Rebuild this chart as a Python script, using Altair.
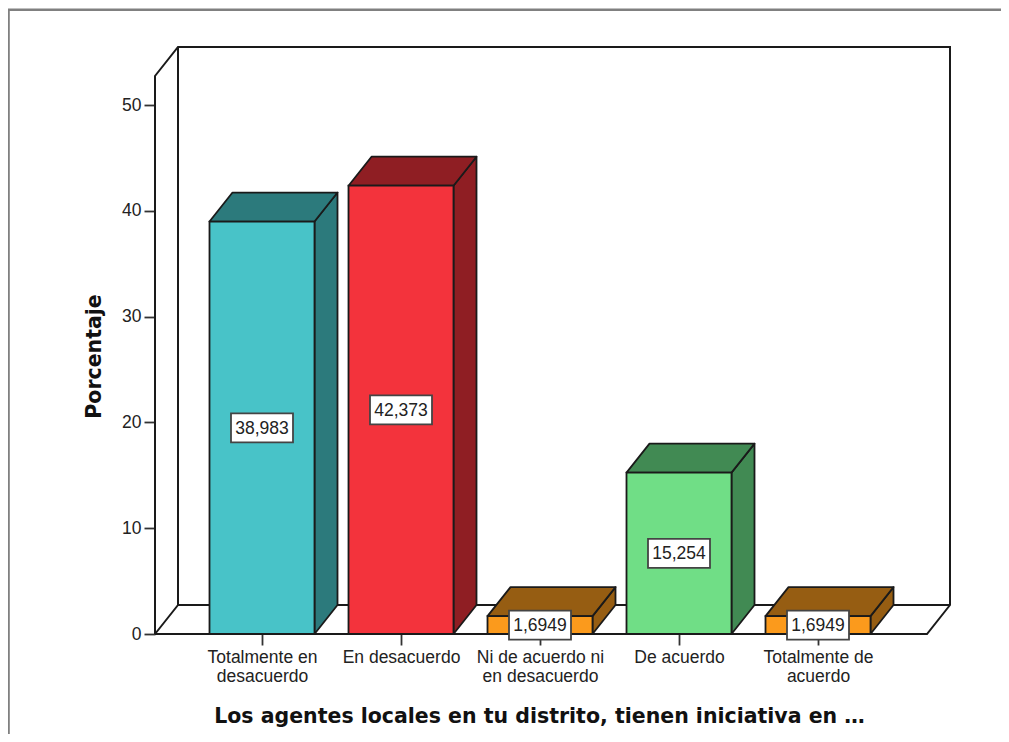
import json
import altair as alt
import pandas as pd

categories = ["Totalmente en desacuerdo", "En desacuerdo", "Ni de acuerdo ni en desacuerdo", "De acuerdo", "Totalmente de acuerdo"]
label_lines = [["Totalmente en", "desacuerdo"], ["En desacuerdo"], ["Ni de acuerdo ni", "en desacuerdo"], ["De acuerdo"], ["Totalmente de", "acuerdo"]]
values = [38.983, 42.373, 1.6949, 15.254, 1.6949]
value_labels = ["38,983", "42,373", "1,6949", "15,254", "1,6949"]
front_colors = ["#48c3c8", "#f3333c", "#fb9a1c", "#70de86", "#fb9a1c"]
dark_colors = ["#2c7a7c", "#8f1e23", "#965d12", "#418a53", "#965d12"]
y_ticks = [0, 10, 20, 30, 40, 50]

# geometry in data units
PX_X = 139.0
PX_Y = 10.58
X_MIN = -107 / PX_X
X_FLOOR = 4 + 109 / PX_X
DX = 23 / PX_X
DY = 29 / PX_Y
X_MAX = X_FLOOR + DX
Y_MAX = 587 / PX_Y
HALF = 52.5 / PX_X
BOX_W = 31 / PX_X
BOX_H = 14.5 / PX_Y
W, H = 795, 587

x_scale = alt.Scale(domain=[X_MIN, X_MAX], nice=False, zero=False)
y_scale = alt.Scale(domain=[0, Y_MAX], nice=False, zero=False)
FONT = "Liberation Sans"
BOLD = "DejaVu Sans"
EDGE = "#1a1a1a"

x_axis = alt.Axis(
    values=list(range(len(categories))),
    domain=False, grid=False, tickSize=11, tickWidth=1.8, tickColor="#333333",
    labelExpr=json.dumps(label_lines) + "[datum.value]",
    labelFont=FONT, labelFontSize=17.5, labelColor="#222222", labelLineHeight=19.5,
    labelPadding=3, labelOverlap=False, labelFlush=False, labelBound=False,
    title="Los agentes locales en tu distrito, tienen iniciativa en …",
    titleFont=BOLD, titleFontSize=20.5, titleFontWeight="bold", titleColor="#111111",
    titleX=384, titleY=82, titleAnchor="middle", titleBaseline="middle",
)
y_axis = alt.Axis(
    values=y_ticks,
    domain=False, grid=False, tickSize=11, tickWidth=1.8, tickColor="#333333",
    labelFont=FONT, labelFontSize=17.5, labelColor="#222222", labelPadding=3,
    title="Porcentaje",
    titleFont=BOLD, titleFontSize=20.5, titleFontWeight="bold", titleColor="#111111",
    titleX=-61, titleY=309, titleAnchor="middle", titleBaseline="middle",
)

def X(field):
    return alt.X(field, scale=x_scale, axis=x_axis)

def Y(field):
    return alt.Y(field, scale=y_scale, axis=y_axis)

wall_paths = [
    [(X_MIN, 0), (X_FLOOR, 0), (X_MAX, DY), (X_MAX, Y_MAX), (X_MIN + DX, Y_MAX), (X_MIN, Y_MAX - DY), (X_MIN, 0)],
    [(X_MIN, 0), (X_MIN + DX, DY), (X_MIN + DX, Y_MAX)],
    [(X_MIN + DX, DY), (X_MAX, DY)],
]
wall_df = pd.DataFrame([
    {"path": i, "o": j, "x": p[0], "y": p[1]}
    for i, path in enumerate(wall_paths) for j, p in enumerate(path)
])

side, top, front = [], [], []
for i, (c, v) in enumerate(zip(categories, values)):
    l, r = i - HALF, i + HALF
    side += [
        {"cat": c, "x": r, "y": 0, "y2": v},
        {"cat": c, "x": r + DX, "y": DY, "y2": v + DY},
    ]
    top += [
        {"cat": c, "x": l, "y": v, "y2": v},
        {"cat": c, "x": l + DX, "y": v, "y2": v + DY},
        {"cat": c, "x": r, "y": v, "y2": v + DY},
        {"cat": c, "x": r + DX, "y": v + DY, "y2": v + DY},
    ]
    front.append({
        "cat": c, "x": l, "x2": r, "v": v, "base": 0, "mid": v / 2, "idx": i,
        "bx": i - BOX_W, "bx2": i + BOX_W, "by": v / 2 - BOX_H, "by2": v / 2 + BOX_H,
        "label": value_labels[i],
    })
side_df, top_df, front_df = pd.DataFrame(side), pd.DataFrame(top), pd.DataFrame(front)

dark = alt.Scale(domain=categories, range=dark_colors)
bright = alt.Scale(domain=categories, range=front_colors)

walls = alt.Chart(wall_df).mark_line(color=EDGE, strokeWidth=2, clip=False).encode(
    x=X("x:Q"), y=Y("y:Q"), detail="path:N", order="o:Q",
)

def area(df):
    return alt.Chart(df).mark_area(stroke=EDGE, strokeWidth=1.8, strokeJoin="round", opacity=1, clip=False).encode(
        x=X("x:Q"), y=Y("y:Q"), y2="y2:Q",
        fill=alt.Fill("cat:N", scale=dark, legend=None),
        detail="cat:N",
    )

bars = alt.Chart(front_df).mark_rect(stroke=EDGE, strokeWidth=1.8, clip=False).encode(
    x=X("x:Q"), x2="x2:Q", y=Y("v:Q"), y2="base:Q",
    fill=alt.Fill("cat:N", scale=bright, legend=None),
)

boxes = alt.Chart(front_df).mark_rect(fill="white", stroke="#444444", strokeWidth=1.8, clip=False).encode(
    x=X("bx:Q"), x2="bx2:Q", y=Y("by:Q"), y2="by2:Q",
)

texts = alt.Chart(front_df).mark_text(font=FONT, fontSize=17.5, color="#222222", clip=False, baseline="middle", align="center", dy=1).encode(
    x=X("idx:Q"), y=Y("mid:Q"), text="label:N",
)

frame_top = alt.Chart(pd.DataFrame({"a": [0]})).mark_rule(color="#808080", strokeWidth=2.4, clip=False).encode(
    x=alt.value(-147), x2=alt.value(846), y=alt.value(-37.3))
frame_left = alt.Chart(pd.DataFrame({"a": [0]})).mark_rule(color="#808080", strokeWidth=2, clip=False).encode(
    x=alt.value(-146.2), y=alt.value(-37.3), y2=alt.value(700))

chart = alt.layer(walls, frame_top, frame_left, area(side_df), area(top_df), bars, boxes, texts).resolve_scale(
    fill="independent"
).properties(
    width=W, height=H,
    padding={"left": 147, "top": 39, "right": 51, "bottom": 100},
    autosize=alt.AutoSizeParams(type="none"),
    background="white",
).configure_view(stroke=None)

chart.save("out.html", embed_options={"renderer": "svg", "actions": False})
